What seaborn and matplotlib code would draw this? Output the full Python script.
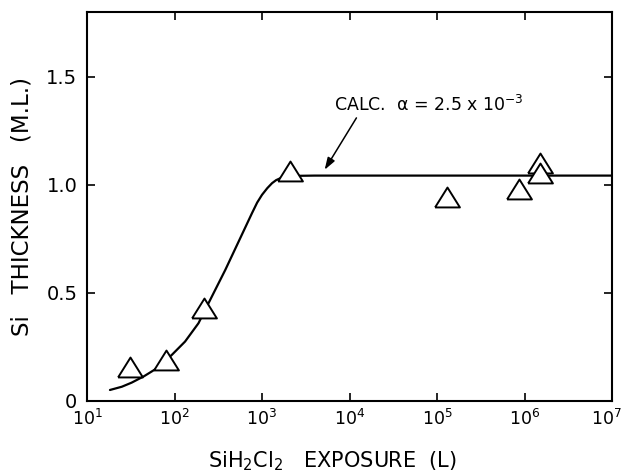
import matplotlib
matplotlib.use("Agg")
import matplotlib.pyplot as plt
import matplotlib.transforms as mtransforms
import seaborn as sns
import pandas as pd
from matplotlib.ticker import FixedLocator, NullLocator

# Measured points (SiH2Cl2 exposure in L, Si thickness in M.L.)
exposure = [31, 80, 215, 2075, 1.31e5, 8.7e5, 1.5e6, 1.5e6]
thickness = [0.159, 0.19, 0.432, 1.066, 0.944, 0.98, 1.10, 1.055]

# Calculated curve (alpha = 2.5e-3)
calc_x = [18.3, 25, 32.4, 45, 62.7, 93, 132, 188, 267, 380, 541, 768, 880, 1000,
          1150, 1303, 1450, 1622, 2000, 2630, 4000, 1e4, 1e5, 1e6, 1e7]
calc_y = [0.051, 0.066, 0.085, 0.115, 0.151, 0.213, 0.275, 0.36, 0.483, 0.606, 0.738,
          0.869, 0.918, 0.954, 0.985, 1.008, 1.022, 1.031, 1.038, 1.042, 1.043,
          1.043, 1.043, 1.043, 1.043]

yticks = [0, 0.5, 1.0, 1.5]
ytick_labels = ["0", "0.5", "1.0", "1.5"]
xticks = [1e1, 1e2, 1e3, 1e4, 1e5, 1e6, 1e7]

sns.set_theme(style="ticks")
plt.rcParams["font.family"] = ["DejaVu Sans"]
plt.rcParams["mathtext.default"] = "regular"
plt.rcParams["text.color"] = "black"
plt.rcParams["axes.labelcolor"] = "black"

fig = plt.figure(figsize=(6.26, 4.76), dpi=100)
ax = fig.add_axes([87/626, 1-401/476, (612-87)/626, (401-12)/476])

pts = pd.DataFrame({"x": exposure, "y": thickness})
curve = pd.DataFrame({"x": calc_x, "y": calc_y})

sns.lineplot(data=curve, x="x", y="y", ax=ax, color="black", lw=1.6, sort=False)
tri = [(-1, -0.8), (1, -0.8), (0, 0.8), (-1, -0.8)]
sns.scatterplot(data=pts, x="x", y="y", ax=ax, marker=tri, s=320,
                facecolor="white", edgecolor="black", linewidth=1.4, zorder=5)

ax.set_xscale("log")
ax.set_xlim(1e1, 1e7)
ax.set_ylim(0, 1.8)
ax.xaxis.set_major_locator(FixedLocator(xticks))
ax.xaxis.set_minor_locator(NullLocator())
ax.set_yticks(yticks)
ax.set_yticklabels(ytick_labels)
ax.tick_params(axis="both", which="major", direction="in", length=6, width=1.2,
               top=True, right=True, colors="black")
ax.tick_params(axis="y", labelsize=14, pad=7)
ax.tick_params(axis="x", labelsize=12.5, pad=6)
for s in ax.spines.values():
    s.set_linewidth(1.5)
    s.set_color("black")

fig.canvas.draw()
last = ax.get_xticklabels()[-1]
last.set_transform(last.get_transform() + mtransforms.ScaledTranslation(-6/100, 0, fig.dpi_scale_trans))

ax.set_xlabel("SiH$_2$Cl$_2$   EXPOSURE  (L)", fontsize=15)
ax.xaxis.set_label_coords((332-87)/(612-87), (401-449)/389)
ax.set_ylabel("Si   THICKNESS   (M.L.)", fontsize=16.5)
ax.yaxis.set_label_coords((34-87)/(612-87), (401-207)/389)

ax.annotate("", xy=(5.2e3, 1.07), xytext=(1.2e4, 1.31),
            arrowprops=dict(arrowstyle="-|>,head_length=0.6,head_width=0.2",
                            color="black", lw=1.1, shrinkA=0, shrinkB=0))
ax.text(8.0e4, 1.37, "CALC.  $\\alpha$ = 2.5 x 10$^{-3}$", fontsize=12.5,
        ha="center", va="center", color="black")

fig.savefig("out.png", dpi=100)
